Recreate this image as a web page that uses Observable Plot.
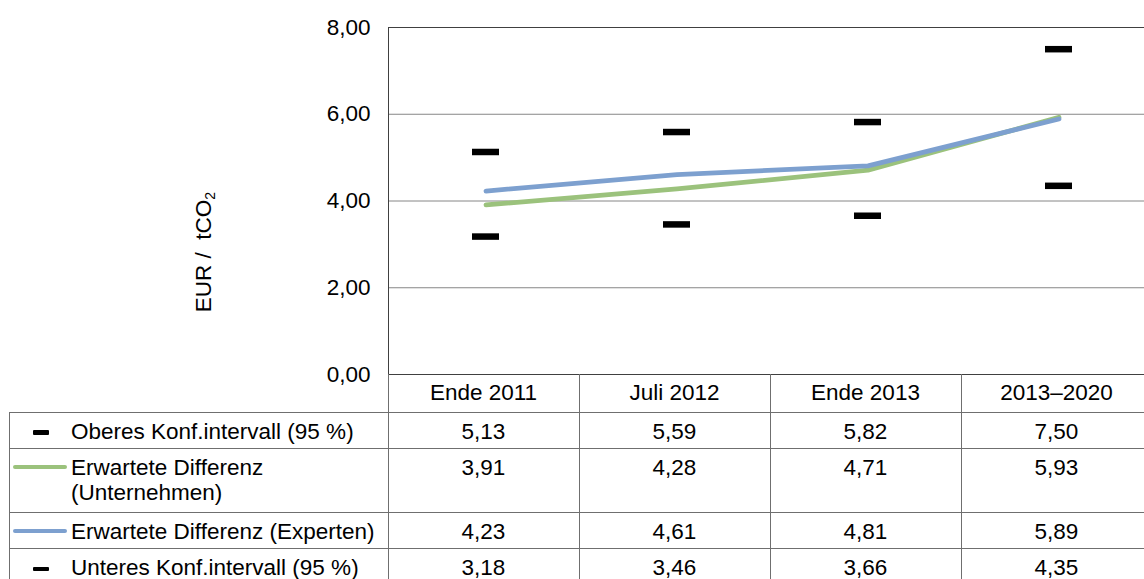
<!DOCTYPE html>
<html><head><meta charset="utf-8">
<script src="https://cdn.jsdelivr.net/npm/d3@7"></script>
<script src="https://cdn.jsdelivr.net/npm/@observablehq/plot@0.6"></script>
<style>
html,body{margin:0;padding:0;background:#fff;overflow:hidden}
#wrap{position:relative;width:1144px;height:579px;overflow:hidden;font-family:"Liberation Sans",Arial,sans-serif;font-size:22.5px;color:#000;background:#fff}
#wrap svg{position:absolute;left:0;top:0}
.cell{position:absolute;box-sizing:border-box;line-height:25px;white-space:normal}
.hl{position:absolute;height:1px;background:#6f6f6f}
.vl{position:absolute;width:1px;background:#6f6f6f}
.sw{position:absolute}
</style></head><body><div id="wrap"></div>
<script>
// ---- data ----
const categories = ["Ende 2011", "Juli 2012", "Ende 2013", "2013–2020"];
const oberes = [5.13, 5.59, 5.82, 7.50];
const unternehmen = [3.91, 4.28, 4.71, 5.93];
const experten = [4.23, 4.61, 4.81, 5.89];
const unteres = [3.18, 3.46, 3.66, 4.35];
const yTicks = [0, 2, 4, 6, 8];
const gridValues = [2, 4, 6];
const seriesLabels = ["Oberes Konf.intervall (95 %)", "Erwartete Differenz (Unternehmen)", "Erwartete Differenz (Experten)", "Unteres Konf.intervall (95 %)"];
const yLabel = "EUR\u00a0/\u00a0 tCO";
const yLabelSub = "2";

const green = "#9bc27c", blue = "#7da0cf";
const fmt = d => d.toFixed(2).replace(".", ",");
const toRows = vals => categories.map((c, i) => ({cat: c, v: vals[i]}));

const chart = Plot.plot({
  width: 1144, height: 376,
  marginLeft: 388, marginRight: -11, marginTop: 27, marginBottom: 2,
  style: {fontFamily: '"Liberation Sans", Arial, sans-serif', fontSize: "22.5px", background: "transparent", color: "#000", overflow: "visible"},
  x: {type: "band", domain: categories, padding: 0, axis: null},
  y: {domain: [0, 8], axis: null},
  marks: [
    Plot.ruleY(gridValues, {stroke: "#868686", strokeWidth: 1}),
    Plot.frame({stroke: "#404040"}),
    Plot.axisY({ticks: yTicks, tickFormat: fmt, tickSize: 0, tickPadding: 18, fontSize: 22.5, label: null}),
    Plot.line(toRows(unternehmen), {x: "cat", y: "v", stroke: green, strokeWidth: 4.8}),
    Plot.line(toRows(experten), {x: "cat", y: "v", stroke: blue, strokeWidth: 4.8}),
    Plot.tickY(toRows(oberes), {x: "cat", y: "v", stroke: "#000", strokeWidth: 6.5, insetLeft: 82, insetRight: 82}),
    Plot.tickY(toRows(unteres), {x: "cat", y: "v", stroke: "#000", strokeWidth: 6.5, insetLeft: 82, insetRight: 82}),
    Plot.text([yLabel], {text: d => d, frameAnchor: "left", textAnchor: "middle", rotate: -90, dx: -185, dy: 51, fontSize: 22.5, fill: "#000"})
  ]
});

const wrap = document.getElementById("wrap");
wrap.appendChild(chart);

// subscript for the axis label
d3.select(chart).selectAll("text").filter(function() { return this.textContent === yLabel; })
  .append("tspan").attr("dy", "0.28em").attr("font-size", "14px").text(yLabelSub);

// ---- data table under the plot, aligned with the x band scale ----
const xs = chart.scale("x");
const ys = chart.scale("y");
const step = xs.step;
const x0 = xs.range[0];
const colLeft = i => x0 + i * step;
const tableLeft = 9, labelLeft = 71, W = 1144;
const top0 = ys.apply(0);
const rowB = [top0, top0 + 37.7, top0 + 74.3, top0 + 138.3, top0 + 174.3, top0 + 211];

function div(cls, css, html) {
  const d = document.createElement("div");
  d.className = cls;
  Object.assign(d.style, css);
  if (html != null) d.textContent = html;
  wrap.appendChild(d);
  return d;
}

// horizontal lines
for (let r = 1; r < rowB.length; r++) {
  div("hl", {left: tableLeft + "px", width: (W - tableLeft) + "px", top: rowB[r] + "px"});
}
// vertical lines
div("vl", {left: tableLeft + "px", top: rowB[1] + "px", height: (rowB[5] - rowB[1]) + "px"});
for (let i = 0; i < categories.length; i++) {
  div("vl", {left: colLeft(i) + "px", top: top0 + "px", height: (rowB[5] - top0) + "px"});
}
// header
categories.forEach((c, i) => {
  div("cell", {left: colLeft(i) + "px", width: step + "px", top: rowB[0] + "px", paddingTop: "5.5px", textAlign: "center"}, c);
});
// rows
const values = [oberes, unternehmen, experten, unteres];
const swatch = ["dash", "line-g", "line-b", "dash"];
values.forEach((vals, r) => {
  const t = rowB[r + 1];
  div("cell", {left: labelLeft + "px", width: (x0 - labelLeft) + "px", top: t + "px", paddingTop: "7px"}, seriesLabels[r]);
  vals.forEach((v, i) => {
    div("cell", {left: colLeft(i) + "px", width: step + "px", top: t + "px", paddingTop: "7px", textAlign: "center"}, fmt(v));
  });
  if (swatch[r] === "dash") {
    div("sw", {left: "33px", width: "16px", height: "4.5px", top: (t + 20.8 - 2.25) + "px", background: "#000", borderRadius: "1px"});
  } else {
    div("sw", {left: "13px", width: "54px", height: "4.3px", top: (t + 18.5 - 2.15) + "px", background: swatch[r] === "line-g" ? green : blue, borderRadius: "2px"});
  }
});
</script>
</body></html>
